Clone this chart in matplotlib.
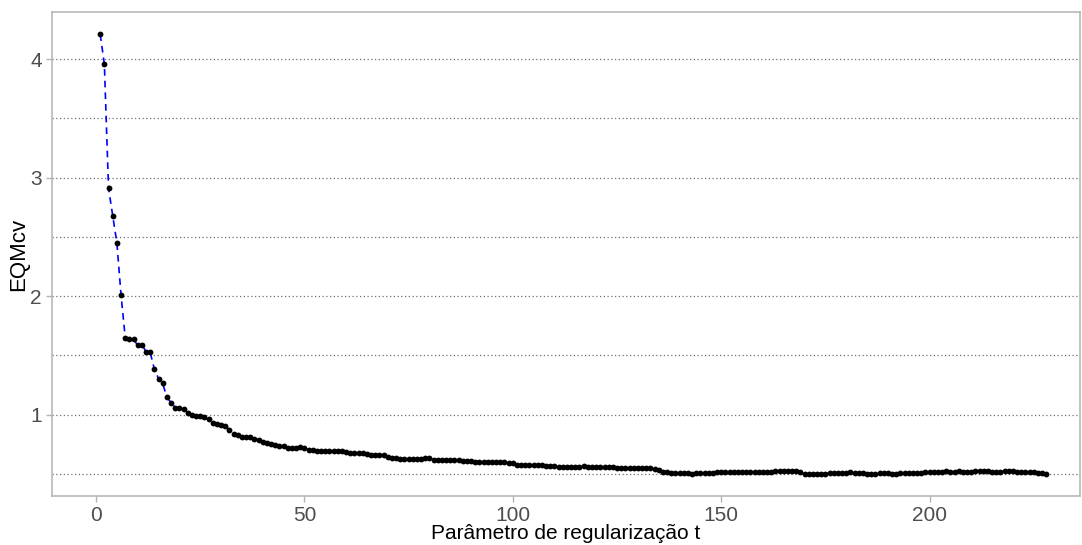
import matplotlib.pyplot as plt
import numpy as np

t = np.arange(1, 229)

eqm_start = [4.21, 3.96, 2.91, 2.68, 2.45, 2.01, 1.65, 1.637, 1.637, 1.583,
             1.591, 1.530, 1.524, 1.383, 1.302, 1.262, 1.144, 1.101, 1.059, 1.051,
             1.048, 1.012, 0.992, 0.986, 0.986, 0.975, 0.958, 0.930, 0.921, 0.913,
             0.905, 0.873, 0.837, 0.831, 0.806, 0.806, 0.806, 0.797, 0.786, 0.769,
             0.763, 0.755, 0.744, 0.738, 0.736, 0.719, 0.716, 0.716, 0.724, 0.716]
eqm_mid = [0.704, 0.702, 0.696, 0.696, 0.688, 0.696, 0.696, 0.696, 0.696, 0.682,
           0.676, 0.676, 0.676, 0.676, 0.668, 0.662, 0.657, 0.657, 0.655, 0.643,
           0.632, 0.630, 0.628, 0.625, 0.624, 0.624, 0.625, 0.626, 0.632, 0.630,
           0.618, 0.615, 0.615, 0.614, 0.614, 0.613, 0.612, 0.611, 0.610, 0.604,
           0.603, 0.602, 0.601, 0.600, 0.598, 0.597, 0.596, 0.596, 0.593, 0.588,
           0.575, 0.573, 0.572, 0.572, 0.571, 0.570, 0.570, 0.568, 0.566, 0.562,
           0.561, 0.560, 0.558, 0.558, 0.557, 0.558, 0.562, 0.558, 0.555, 0.556,
           0.555, 0.554, 0.553, 0.553, 0.552, 0.552, 0.551, 0.550, 0.548, 0.547,
           0.546, 0.545, 0.545, 0.540, 0.528, 0.516, 0.514, 0.507, 0.506, 0.505]
eqm_end = [0.505, 0.504, 0.498, 0.503, 0.505, 0.506, 0.506, 0.507, 0.512, 0.513,
           0.513, 0.513, 0.514, 0.514, 0.514, 0.514, 0.514, 0.515, 0.514, 0.515,
           0.514, 0.515, 0.522, 0.523, 0.522, 0.523, 0.522, 0.521, 0.516, 0.500,
           0.499, 0.500, 0.501, 0.500, 0.500, 0.505, 0.507, 0.508, 0.508, 0.510,
           0.511, 0.510, 0.510, 0.509, 0.500, 0.501, 0.500, 0.506, 0.508, 0.508,
           0.502, 0.502, 0.508, 0.508, 0.509, 0.508, 0.508, 0.508, 0.513, 0.513,
           0.514, 0.513, 0.518, 0.519, 0.518, 0.518, 0.519, 0.518, 0.515, 0.515,
           0.522, 0.523, 0.523, 0.522, 0.515, 0.515, 0.516, 0.519, 0.520, 0.519,
           0.514, 0.514, 0.515, 0.514, 0.514, 0.508, 0.507, 0.497]
eqm = eqm_start + eqm_mid + eqm_end

font = ['Liberation Sans', 'DejaVu Sans']

fig = plt.figure(figsize=(10.82, 5.45), dpi=100)
ax = fig.add_axes([0.0478, 0.0899, 0.9504, 0.8875])

# linha tracejada azul por baixo, pontos pretos por cima
ax.plot(t, eqm, '--', color='blue', linewidth=1.2, dashes=(4, 3), zorder=2)
ax.plot(t, eqm, 'o', color='black', markersize=4.2, markeredgewidth=0, zorder=3)

ax.set_xlim(-10.63, 236.1)
ax.set_ylim(0.312, 4.396)
ax.set_xticks([0, 50, 100, 150, 200])
ax.set_yticks([1, 2, 3, 4])
ax.set_yticks([0.5, 1.5, 2.5, 3.5], minor=True)
ax.grid(axis='y', which='both', linestyle=(0, (1, 2)), color='#6e6e6e', linewidth=0.9)
ax.set_axisbelow(True)

for s in ax.spines.values():
    s.set_color('#b3b3b3')
    s.set_linewidth(1.1)

ax.tick_params(axis='both', which='major', colors='#b3b3b3', length=4, width=1,
               labelcolor='#4d4d4d', labelsize=15, pad=3)
ax.tick_params(axis='y', which='minor', length=0)
for lab in ax.get_xticklabels() + ax.get_yticklabels():
    lab.set_family(font)

ax.set_xlabel('Parâmetro de regularização t', fontsize=15, family=font, labelpad=0)
ax.set_ylabel('EQMcv', fontsize=16, family=font, labelpad=2)
ax.xaxis.set_label_coords(0.5, -0.058)
ax.yaxis.set_label_coords(-0.022, 0.5)

fig.savefig('out.png', dpi=100)
